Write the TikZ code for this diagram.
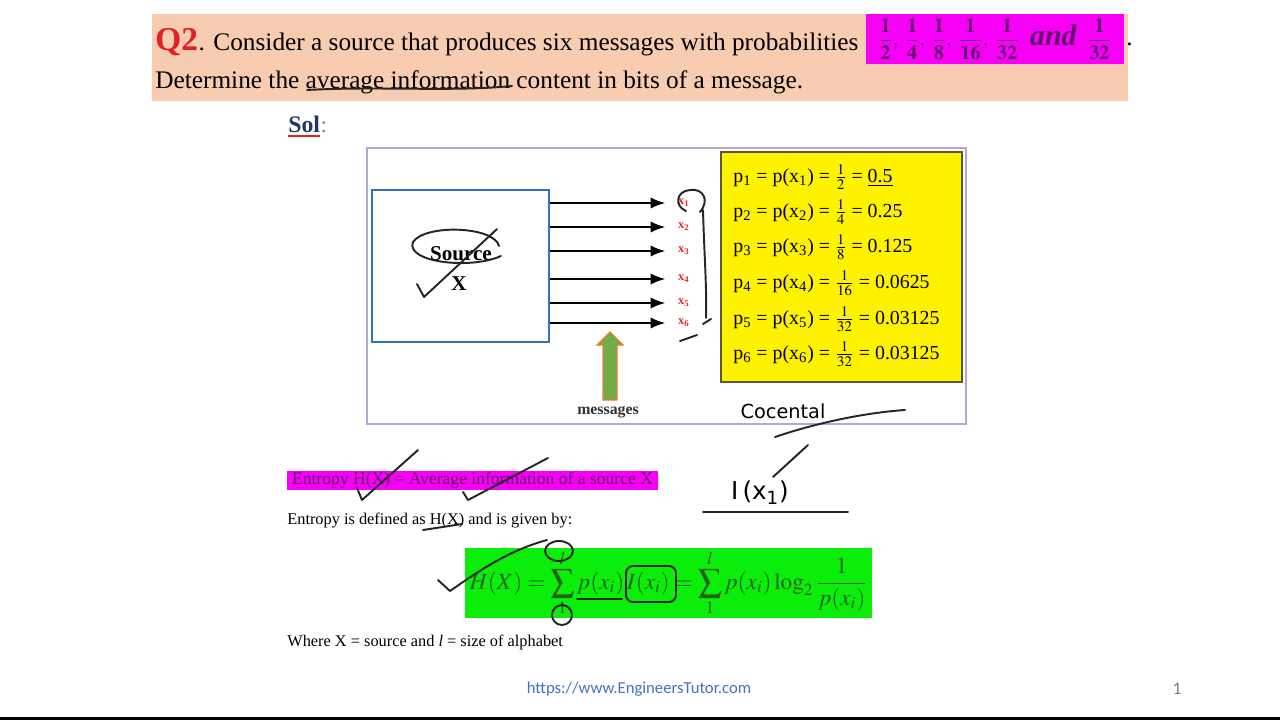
\documentclass[tikz,border=0pt]{standalone}
\usepackage{mathptmx}
\usepackage[no-math]{fontspec}
\setmainfont{Liberation Serif}
\newfontfamily\urlfont{Carlito}
\newfontfamily\handfont{DejaVu Sans}
\usetikzlibrary{positioning,arrows.meta}
\definecolor{peach}{RGB}{248,204,176}
\definecolor{pinkhl}{RGB}{246,0,246}
\definecolor{plum}{RGB}{100,20,110}
\definecolor{qred}{RGB}{228,32,32}
\definecolor{solblue}{RGB}{31,56,100}
\definecolor{framelilac}{RGB}{185,165,212}
\definecolor{srcblue}{RGB}{46,117,182}
\definecolor{xred}{RGB}{230,40,40}
\definecolor{yborder}{RGB}{90,90,40}
\definecolor{arrgreen}{RGB}{112,173,71}
\definecolor{arrorange}{RGB}{237,125,49}
\definecolor{eqgreen}{RGB}{10,238,10}
\definecolor{eqtext}{RGB}{40,95,25}
\definecolor{urlblue}{RGB}{68,114,196}

\begin{document}
\begin{tikzpicture}[
  x=0.02cm, y=-0.02cm,
  line/.style={anchor=base west, inner sep=0pt},
  msg/.style={-Latex, line width=1.2pt},
  xlab/.style={anchor=west, inner sep=1pt, text=xred, font=\scriptsize\bfseries},
  prob/.style={anchor=west, inner sep=0pt, font=\fontsize{11.3}{13}\selectfont},
  note/.style={anchor=base west, inner sep=0pt, font=\fontsize{9.3}{11}\selectfont},
  pen/.style={line width=1.1pt, line cap=round, line join=round, black!85},
]
  \useasboundingbox (0,0) rectangle (1280,720);
  \fill[white] (0,0) rectangle (1280,720);
  \fill[black] (0,717) rectangle (1280,720);

  % question
  \fill[peach] (152,14) rectangle (1128,101);
  \node[line, text=qred, font=\fontsize{19}{22}\selectfont\bfseries] (q2) at (155,50) {Q2};
  \node[line, font=\fontsize{14.4}{16}\selectfont] (ask) at (q2.base east)
    {. Consider a source that produces six messages with probabilities};
  \node[fill=pinkhl, text=plum, minimum width=5.16cm, minimum height=1cm, inner sep=0pt,
        font=\fontsize{11.5}{13}\selectfont] (probs) at (995,39)
    {$\displaystyle\mathbf{\frac{1}{2}},\;\mathbf{\frac{1}{4}},\;\mathbf{\frac{1}{8}},\;
      \mathbf{\frac{1}{16}},\;\mathbf{\frac{1}{32}}$\;
     {\fontsize{17}{19}\selectfont\bfseries\itshape and}\; $\displaystyle\mathbf{\frac{1}{32}}$};
  \node[line, font=\fontsize{14.4}{16}\selectfont] (dot) at (1126,45) {.};
  \node[line, font=\fontsize{14.4}{16}\selectfont] (det) at (155,88)
    {Determine the average information content in bits of a message.};

  \node[line, text=solblue, font=\fontsize{13.5}{15}\selectfont\bfseries] (sol) at (288,132) {Sol};
  \node[line, text=gray, font=\fontsize{13}{15}\selectfont] (colon) at (sol.base east) {:};
  \draw[qred, line width=1.2pt] ([yshift=-2.5pt]sol.base west) -- ([yshift=-2.5pt]sol.base east);

  % block diagram
  \draw[framelilac, line width=1pt] (367,148) rectangle (966,424);
  \node[draw=srcblue, line width=1.2pt, minimum width=3.54cm, minimum height=3.04cm] (src) at (460.5,266) {};
  \node[font=\fontsize{12}{14}\selectfont\bfseries] (srcname) at (461,254) {Source};
  \node[font=\fontsize{12}{14}\selectfont\bfseries] (srcx) at (459,284) {X};

  \foreach \i/\y in {1/203, 2/227, 3/251, 4/279, 5/303, 6/323} {
    \node[xlab] (x\i) at (676,\y) {x\textsubscript{\i}};
    \draw[msg] (src.east |- x\i) -- ([xshift=-6pt]x\i.west);
  }

  \draw[draw=arrorange, fill=arrgreen, line width=0.8pt]
    (603,400) -- (603,345) -- (597,345) -- (610,332) -- (623,345) -- (617,345) -- (617,400) -- cycle;
  \node[font=\fontsize{9}{11}\selectfont\bfseries, text=black!80] (msgs) at (608,412) {messages};

  \node[draw=yborder, fill=yellow, line width=1.2pt, minimum width=4.82cm, minimum height=4.6cm] (pbox) at (841.5,267) {};
  \node[prob] (p1) at (733,177) {p\textsubscript{1} = p(x\textsubscript{1}) = $\frac{1}{2}$ = \underline{0.5}};
  \node[prob] (p2) at (733,212) {p\textsubscript{2} = p(x\textsubscript{2}) = $\frac{1}{4}$ = 0.25};
  \node[prob] (p3) at (733,247) {p\textsubscript{3} = p(x\textsubscript{3}) = $\frac{1}{8}$ = 0.125};
  \node[prob] (p4) at (733,283) {p\textsubscript{4} = p(x\textsubscript{4}) = $\frac{1}{16}$ = 0.0625};
  \node[prob] (p5) at (733,319) {p\textsubscript{5} = p(x\textsubscript{5}) = $\frac{1}{32}$ = 0.03125};
  \node[prob] (p6) at (733,354) {p\textsubscript{6} = p(x\textsubscript{6}) = $\frac{1}{32}$ = 0.03125};

  % entropy
  \node[fill=pinkhl, text=plum, minimum width=7.42cm, minimum height=0.38cm, inner sep=0pt,
        font=\fontsize{10}{12}\selectfont] (ent) at (472.5,480.5)
    {Entropy H(X) = Average information of a source X};
  \node[note] (def) at (287,524) {Entropy is defined as H(X) and is given by:};
  \node[fill=eqgreen, text=eqtext, minimum width=8.14cm, minimum height=1.4cm, inner sep=0pt,
        font=\fontsize{13.2}{15}\selectfont] (eq) at (668.5,583)
    {$\displaystyle H(X) = \sum_{1}^{l} p(x_i)\,I(x_i) = \sum_{1}^{l} p(x_i)\log_2\frac{1}{p(x_i)}$};
  \node[note] (where) at (287,646) {Where X = source and \textit{l} = size of alphabet};

  \node[font=\urlfont\fontsize{9.5}{11}\selectfont, text=urlblue] (url) at (639,689) {https://www.EngineersTutor.com};
  \node[font=\urlfont\fontsize{10}{12}\selectfont, text=gray] (page) at (1177,689) {1};

  % pen notes
  \draw[pen] (307,90) .. controls (380,86) and (450,92) .. (512,86);
  \draw[pen] (499,246) .. controls (494,226) and (425,224) .. (413,242)
             .. controls (405,262) and (470,270) .. (501,256);
  \draw[pen] (417,284) -- (424,297) -- (497,229);
  \draw[pen] (700,212) .. controls (710,200) and (703,188) .. (690,190)
             .. controls (676,191) and (674,206) .. (686,211);
  \draw[pen] (703,210) .. controls (704,250) and (707,290) .. (706,318);
  \draw[pen] (703,324) -- (711,319);
  \draw[pen] (680,341) -- (697,335);
  \node[font=\handfont\fontsize{11}{13}\selectfont, inner sep=0pt] (cont) at (783,411) {Cocental};
  \draw[pen] (775,437) .. controls (810,425) and (860,413) .. (905,410);
  \draw[pen] (808,445) -- (773,477);
  \node[font=\handfont\fontsize{14}{16}\selectfont, inner sep=0pt] (ixi) at (760,493) {I\,(x\textsubscript{1})};
  \draw[pen] (703,512) -- (848,512);
  \draw[pen] (357,488) -- (362,500) -- (418,450);
  \draw[pen] (463,492) -- (468,500) -- (548,458);
  \draw[pen] (423,530) -- (462,524);
  \draw[pen] (438,580) -- (450,591) .. controls (480,570) and (510,550) .. (547,540);
  \draw[pen] (559,551) ellipse [x radius=0.28cm, y radius=0.2cm];
  \draw[pen] (562,615) ellipse [x radius=0.2cm, y radius=0.2cm];
  \draw[pen] (577,599) -- (622,599);
  \draw[pen, rounded corners=4pt] (626,566) rectangle (676,602);
\end{tikzpicture}
\end{document}
